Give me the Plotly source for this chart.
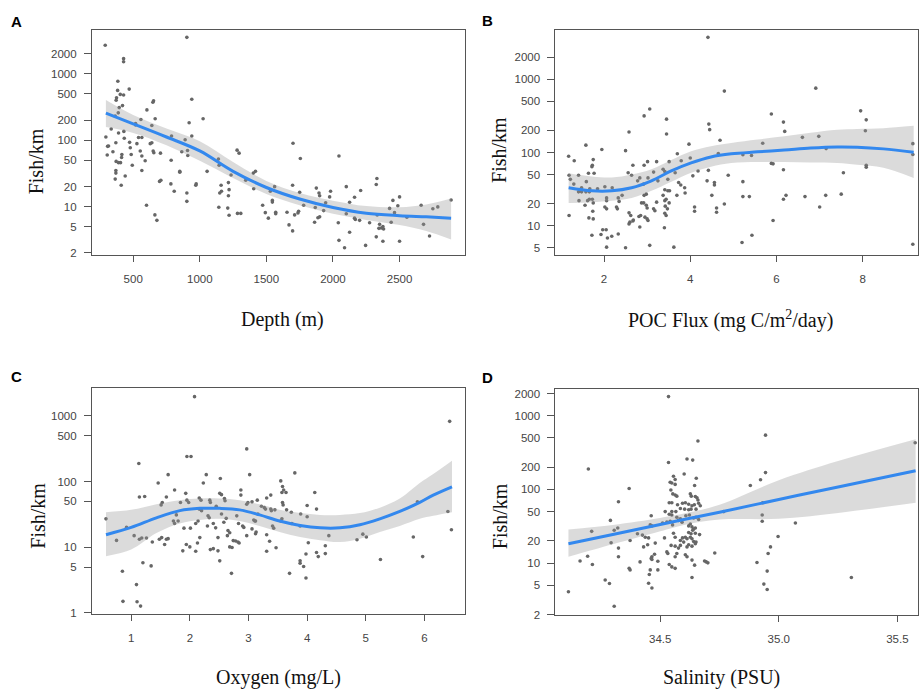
import plotly.graph_objects as go

# ---- Panel A: depth ----
depth = [290, 903, 428, 428, 385, 470, 383, 403, 428, 375, 372, 420, 395, 388, 365, 653, 648, 940,
         603, 665, 1025, 920, 558, 518, 518, 640, 335, 430, 390, 788, 940, 295, 433, 540, 565, 890,
         308, 315, 370, 473, 528, 628, 640, 478, 348, 485, 305, 415, 553, 650, 655, 565, 705, 865,
         908, 910, 413, 372, 390, 405, 590, 785, 493, 370, 370, 565, 440, 365, 410, 850, 850, 708,
         698, 783, 808, 903, 973, 970, 600, 663, 678, 903, 1140, 1145, 1055, 1280, 1295, 1235, 1160,
         1163, 1150, 1215, 1220, 1215, 1143, 1210, 1220, 1283, 1308,
         1345, 1402, 1418, 1405, 1472, 1492, 1515, 1530, 1545, 1545, 1562, 1570, 1570, 1655, 1670,
         1700, 1697, 1697, 1712, 1737, 1742, 1755, 1750, 1780, 1875, 1867, 1862, 1887, 1900, 1895,
         1900, 1930, 1945, 1982, 1975, 2040, 2045, 2045, 2087, 2100, 2100, 2125, 2125, 2162, 2162,
         2168, 2200, 2208, 2245, 2275, 2330, 2325, 2332, 2325, 2350, 2345, 2362, 2375, 2380, 2375,
         2425, 2437, 2450, 2462, 2487, 2500, 2500, 2555, 2662, 2680, 2725, 2750, 2787, 2887]
fish_a = [2710, 3560, 1700, 1530, 778, 591, 565, 492, 481, 438, 401, 333, 311, 259, 231, 395, 374, 415,
          287, 211, 211, 184, 206, 179, 170, 167, 148, 136, 129, 116, 116, 112, 107, 110, 110, 102,
          81, 82, 92, 93, 89, 89, 92, 77, 67, 61, 60, 61, 69, 69, 65, 58, 64, 67,
          70, 59, 55, 48, 46, 46, 49, 50, 42, 35, 32, 35, 29, 26, 21, 34, 33, 25,
          24, 22, 17, 16, 22, 21, 10.5, 7.5, 6.2, 12, 52, 42, 34, 71, 64, 30, 21,
          17, 16, 23, 18, 14.6, 9.8, 9.5, 7.4, 7.9, 7.9,
          25, 32, 34, 18.6, 10.5, 8.1, 6.7, 17, 12.4, 11.7, 20, 8.2, 7.8, 8.2, 5.3,
          90, 21, 4.3, 7.5, 8, 8.5, 53, 16.4, 10.5, 19, 9.7, 5.8, 6.8, 7, 16,
          14.6, 8.7, 11.4, 17, 14, 5.7, 3.1, 58, 2.4, 20, 7.8, 11.6, 4.1, 13.8, 6.7,
          6.4, 6.2, 17.5, 2.6, 5.7, 26.5, 21.5, 7.5, 3.5, 5.4, 4.7, 4.75, 5, 4.6, 3.0,
          9.4, 5.8, 12.4, 8.1, 10.3, 14, 3.0, 6.9, 10.5, 5.4, 3.6, 9.3, 9.9, 12.6]
fit_a_x = [295, 500, 750, 1000, 1250, 1500, 1750, 2000, 2250, 2500, 2700, 2887]
fit_a = [256, 177, 112, 69, 34, 19.4, 13, 9.7, 7.95, 7.3, 7.0, 6.7]
fit_a_hi = [405, 241, 150, 97, 47, 24.4, 16, 12.3, 10.2, 9.8, 10.8, 13.3]
fit_a_lo = [158, 129, 84, 49, 27, 15.5, 10.5, 7.8, 6.3, 5.3, 4.3, 3.2]

# ---- Panel B: POC flux ----
poc = [4.41, 4.79, 6.91, 3.06, 2.93, 3.45, 5.88, 6.16, 4.43, 4.45, 3.45, 2.58, 6.19, 7.95, 8.08, 8.06,
       6.6, 6.98, 5.68, 4.69, 3.97, 1.58, 1.95, 2.5, 9.16, 9.16, 1.18, 1.31, 4.65, 3.7, 5.42, 5.22,
       4.0, 3.79, 3.51, 3.22, 3.01, 1.75, 1.73, 1.72, 2.93, 2.67, 5.88, 5.92, 8.08, 8.08, 1.64, 1.77,
       1.41, 1.19, 1.22, 2.56, 2.64, 3.37, 3.41, 3.15, 3.65, 4.06, 4.18, 4.42, 4.88, 6.16, 7.55,
       2.78, 2.83, 2.92, 3.02, 3.25, 3.48, 3.73, 3.78, 3.87, 4.39, 4.56, 4.56, 5.22, 1.59, 1.48,
       1.67, 1.85, 2.02, 2.19, 1.41, 1.48, 1.58, 1.66, 1.3, 2.42, 2.98, 2.93, 3.41, 3.48, 3.52,
       3.37, 3.69, 3.88, 4.5, 7.5, 5.22, 5.37, 6.22, 6.16, 6.66, 7.14, 1.42, 1.62, 1.66, 1.73, 1.75,
       2.06, 2.06, 2.33, 2.35, 2.29, 2.31, 2.02, 2.06, 2.87, 2.92, 2.98, 3.0, 3.15, 3.18, 3.22,
       3.41, 3.44, 3.42, 3.47, 3.51, 3.41, 3.44, 1.56, 1.74, 1.19, 1.65, 1.75, 2.58, 2.62, 2.6,
       2.58, 2.67, 2.68, 2.85, 2.81, 2.95, 3.0, 3.02, 2.83, 3.4, 4.1, 4.1, 4.61, 4.61, 4.79, 5.92,
       7.0, 1.72, 1.93, 1.97, 2.05, 2.08, 2.18, 2.33, 2.06, 2.5, 3.06, 3.62, 5.2, 5.43, 9.16, 7.15]
fish_b = [3730, 689, 755, 393, 316, 285, 336, 260, 244, 205, 179, 190, 194, 370, 279, 198,
          161, 166, 134, 147, 130, 126, 110, 106, 132, 94, 89, 77, 97, 96, 91, 93,
          84, 77, 75, 75, 75, 80, 67, 64, 67, 67, 71, 70, 67, 63, 52, 52,
          49, 49, 43, 53, 49, 59, 55, 54, 53, 48, 56, 57, 49, 58, 53,
          41, 45, 37, 45, 41, 43, 39, 36, 33, 41, 39, 36, 40, 40, 33,
          32, 32, 34, 33, 29, 29, 29, 29, 37, 26, 27, 26, 31, 30, 30,
          26, 26, 28, 26, 27, 25, 25, 26, 23, 25, 26, 22, 22, 23, 23, 20.5,
          24, 22, 24, 21.5, 18, 17, 18, 17, 20.5, 20.5, 19, 17.5, 17, 16, 21,
          22, 23, 18.5, 17, 20.5, 14.8, 13.8, 19, 15.8, 13.8, 12.8, 12.4, 15, 13.8, 11.2,
          10.6, 11.6, 12, 13.8, 13.4, 13.1, 12.4, 11.8, 9.6, 9.4, 18, 15.8, 17.5, 15.3, 19.8, 11.8,
          18, 7.4, 7.6, 8.8, 8.8, 6.8, 7.2, 7.7, 5.1, 5.0, 5.4, 5.1, 5.9, 7.4, 5.6, 113]
fit_b_x = [1.18, 1.72, 2.18, 2.64, 3.1, 3.56, 4.02, 4.48, 4.95, 5.56, 6.18, 6.79, 7.41, 7.87, 8.48, 9.18]
fit_b = [33, 30, 30, 33, 41, 56, 72, 87, 96, 102, 108, 115, 119, 118, 112, 101]
fit_b_hi = [52, 47, 45.5, 50, 59, 79, 104, 122, 135, 150, 166, 186, 205, 210, 215, 232]
fit_b_lo = [20.5, 21, 22, 24, 30, 40, 53, 64, 72, 74, 74, 73, 72, 68, 62, 45]

# ---- Panel C: oxygen ----
oxygen = [2.08, 6.43, 2.97, 1.95, 2.02, 1.13, 1.63, 2.28, 3.02, 3.79, 1.46, 2.23, 2.52, 3.55, 3.58, 3.6,
          1.74, 2.87, 2.87, 1.93, 1.14, 1.23, 4.13, 3.57, 3.64, 3.38, 3.31, 2.51, 2.54, 2.59, 2.6,
          2.16, 2.19, 1.95, 1.98, 1.53, 1.51, 1.6, 1.84, 2.34, 2.35, 2.45, 2.97, 2.99, 3.06, 3.15,
          3.22, 3.27, 3.29, 3.38, 3.39, 3.45, 3.58, 3.59, 3.65, 3.73, 3.89, 4.0, 4.16, 4.0, 3.88,
          3.57, 3.55, 3.74, 3.41, 3.43, 3.13, 3.12, 3.06, 3.11, 3.31, 3.36, 3.31, 3.47, 0.57, 0.75,
          0.92, 1.05, 1.14, 1.18, 1.26, 1.36, 1.48, 1.52, 1.57, 1.6, 1.63, 1.72, 1.77, 1.74, 1.8,
          1.9, 2.01, 2.1, 2.14, 2.2, 2.16, 2.31, 2.33, 2.3, 2.4, 2.44, 2.17, 2.13, 1.94, 2.0, 1.88,
          2.1, 2.35, 2.4, 2.48, 2.48, 2.51, 2.54, 2.58, 2.62, 2.65, 2.68, 2.64, 2.68, 2.72, 2.74,
          2.78, 2.82, 2.84, 2.71, 2.8, 2.83, 2.9, 2.92, 2.97, 3.09, 3.12, 3.16, 3.7, 3.88, 3.88,
          3.94, 3.98, 3.98, 4.02, 4.16, 4.19, 4.31, 4.31, 4.37, 4.85, 4.95, 5.01, 5.25, 5.81, 5.88,
          5.97, 6.4, 6.46, 0.85, 0.86, 1.09, 1.1, 1.16, 1.2, 1.34]
fish_c = [1950, 822, 313, 240, 240, 188, 127, 127, 127, 135, 95, 95, 111, 102, 84, 74,
          74, 74, 62, 66, 58, 59, 68, 68, 68, 62, 56, 66, 63, 55, 51,
          56, 52, 52, 48, 48, 44, 58, 48, 52, 48, 42, 45, 48, 49, 52,
          42, 40, 38, 38, 36, 37, 48, 44, 37, 34, 32, 43, 38, 29, 21,
          27, 25, 23, 21, 19.5, 17, 16, 19, 25, 15.5, 12.3, 8.7, 9.8, 27, 12.7,
          20, 15, 13.2, 13.8, 13.8, 12, 13.2, 14, 11, 13.2, 13.5, 25, 31, 23, 25,
          19.5, 19.5, 23, 25, 36, 38, 30, 28, 21, 23, 19.7, 14, 11.6, 11, 10.1, 8.8,
          8.7, 9.2, 9.5, 14, 8.8, 6.2, 32, 24, 27.5, 18, 16.6, 15, 10.1, 9.9, 12.6,
          12.4, 12, 11.6, 4.0, 30, 23, 21, 20, 15, 26, 25, 32, 4.0, 6.2, 5.7,
          5.1, 3.4, 7.9, 11.7, 8.3, 7.2, 8.0, 10.5, 15, 13, 15.8, 14.3, 6.5, 14.3, 49,
          7.2, 35, 18.4, 4.3, 1.5, 2.7, 1.48, 1.27, 5.8, 5.2]
fit_c_x = [0.57, 1.0, 1.43, 1.83, 2.17, 2.51, 2.85, 3.19, 3.53, 3.88, 4.22, 4.56, 4.9, 5.24, 5.58, 5.92, 6.15, 6.47]
fit_c = [15.5, 20, 28, 36, 39, 39, 37, 31, 25, 21.4, 19.7, 19.7, 21.9, 27, 35, 48, 62, 83]
fit_c_hi = [34, 37, 45, 52, 55, 55, 52, 45, 37, 33, 31, 31, 33, 40, 55, 95, 130, 207]
fit_c_lo = [7.3, 9.2, 16.4, 23, 26, 27, 25, 21, 17, 14.3, 12.8, 12, 13.5, 17, 21, 27, 30, 34]

# ---- Panel D: salinity ----
salinity = [34.535, 34.944, 34.659, 35.575, 34.535, 34.613, 34.637, 34.197, 34.944, 34.923, 34.880,
            34.556, 34.563, 34.542, 34.549, 34.563, 34.601, 34.652, 34.645, 34.369, 34.545, 34.553,
            34.563, 34.570, 34.627, 34.631, 34.648, 34.655, 34.659, 34.324, 34.538, 34.549, 34.573,
            34.594, 34.606, 34.620, 34.634, 34.644, 34.662, 34.669, 34.521, 34.549, 34.566, 34.585,
            34.603, 34.620, 34.630, 34.651, 34.768, 34.932, 34.290, 34.462, 34.538, 34.549, 34.570,
            34.585, 34.608, 34.623, 34.641, 34.651, 34.662, 34.930, 34.930, 35.070, 34.211, 34.306,
            34.321, 34.404, 34.458, 34.465, 34.510, 34.528, 34.542, 34.552, 34.577, 34.592, 34.620,
            34.627, 34.634, 34.641, 34.648, 34.637, 34.620, 34.630, 34.648, 34.666, 34.425, 34.437,
            34.451, 34.518, 34.556, 34.563, 34.594, 34.606, 34.613, 34.627, 34.634, 34.585, 34.599,
            34.641, 34.651, 34.373, 34.293, 34.430, 34.447, 34.479, 34.546, 34.563, 34.585, 34.577,
            34.613, 34.620, 34.634, 34.648, 34.965, 34.997, 34.730, 34.955, 34.324, 34.476, 34.465,
            34.528, 34.532, 34.570, 34.563, 34.606, 34.613, 34.634, 34.687, 34.694, 34.701, 34.194,
            34.162, 34.214, 34.324, 34.415, 34.462, 34.465, 34.490, 34.538, 34.549, 34.563, 34.645,
            34.908, 34.369, 34.373, 34.458, 34.490, 34.951, 34.454, 34.634, 35.306, 34.268, 34.286,
            34.451, 34.937, 34.465, 34.951, 34.113, 34.306]
fish_d = [1815, 545, 453, 430, 232, 258, 250, 189, 169, 135, 113,
          151, 136, 125, 122, 117, 162, 142, 113, 103, 98, 87,
          84, 81, 87, 81, 80, 77, 72, 68, 66, 66, 62,
          65, 66, 63, 60, 62, 65, 60, 50, 50, 50, 55,
          54, 53, 54, 54, 50, 66, 38, 44, 46, 45, 42,
          40, 44, 45, 41, 42, 39, 45, 37, 35, 27, 28,
          30, 25, 33, 32, 35, 36, 37, 33, 38, 36, 32,
          34, 31, 29, 30, 28, 26, 25, 25.5, 24.4, 24, 22.5,
          22, 22, 25.5, 22.5, 22, 22.5, 21.4, 22.5, 21.4, 20.3, 19.3,
          19.7, 19.3, 20.3, 18.9, 16.6, 17.8, 18.7, 17.4, 17, 17.4, 16,
          16.6, 17.8, 17, 18.3, 16.6, 23, 13.7, 13.5, 16, 13.2, 12.2,
          14.2, 13.5, 13.5, 12.2, 13, 12.2, 11, 10.7, 10.4, 10.1, 12.4,
          10.7, 9.6, 12.2, 10.4, 11.6, 11.2, 10.6, 9.6, 8.9, 8.5, 9.4,
          10.2, 8.5, 8.1, 8.1, 8.1, 7.8, 7.0, 6.4, 6.4, 5.9, 5.3,
          5.35, 5.2, 4.6, 4.4, 4.1, 2.6]
fit_d_x = [34.113, 34.3, 34.5, 34.6, 34.75, 35.0, 35.25, 35.577]
fit_d = [18.3, 24.5, 33.5, 39, 49, 73, 108, 179]
fit_d_hi = [28.5, 33, 41, 47, 62, 133, 242, 478]
fit_d_lo = [12.2, 18, 27, 33, 39, 40, 48, 66]

W, H = 919, 695
fig = go.Figure()

panels = [
    dict(x=depth, y=fish_a, fx=fit_a_x, f=fit_a, hi=fit_a_hi, lo=fit_a_lo,
         dom_x=(92, 466), dom_y=(29, 257), xr=[190, 2995], yr=[0.264, 3.667],
         xt=[500, 1000, 1500, 2000, 2500], xtt=['500', '1000', '1500', '2000', '2500'],
         yt=[2, 5, 10, 20, 50, 100, 200, 500, 1000, 2000]),
    dict(x=poc, y=fish_b, fx=fit_b_x, f=fit_b, hi=fit_b_hi, lo=fit_b_lo,
         dom_x=(556, 919), dom_y=(29, 257), xr=[0.873, 9.28], yr=[0.595, 3.676],
         xt=[2, 4, 6, 8], xtt=['2', '4', '6', '8'],
         yt=[5, 10, 20, 50, 100, 200, 500, 1000, 2000]),
    dict(x=oxygen, y=fish_c, fx=fit_c_x, f=fit_c, hi=fit_c_hi, lo=fit_c_lo,
         dom_x=(92, 466), dom_y=(391, 619.5), xr=[0.33, 6.70], yr=[-0.02, 3.421],
         xt=[1, 2, 3, 4, 5, 6], xtt=['1', '2', '3', '4', '5', '6'],
         yt=[1, 5, 10, 50, 100, 500, 1000]),
    dict(x=salinity, y=fish_d, fx=fit_d_x, f=fit_d, hi=fit_d_hi, lo=fit_d_lo,
         dom_x=(556, 919), dom_y=(391.5, 620), xr=[34.058, 35.587], yr=[0.30, 3.368],
         xt=[34.5, 35.0, 35.5], xtt=['34.5', '35.0', '35.5'],
         yt=[2, 5, 10, 20, 50, 100, 200, 500, 1000, 2000]),
]

tickfont = dict(family='Liberation Sans, Arial, sans-serif', size=11.5, color='#444')
layout = {}
for i, p in enumerate(panels, start=1):
    xa = 'x' if i == 1 else 'x%d' % i
    ya = 'y' if i == 1 else 'y%d' % i
    fig.add_trace(go.Scatter(x=p['x'], y=p['y'], mode='markers', xaxis=xa, yaxis=ya,
                             marker=dict(size=3.6, color='#666666'), showlegend=False))
    fig.add_trace(go.Scatter(x=p['fx'], y=p['lo'], mode='lines', xaxis=xa, yaxis=ya,
                             line=dict(width=0, shape='spline'), showlegend=False))
    fig.add_trace(go.Scatter(x=p['fx'], y=p['hi'], mode='lines', xaxis=xa, yaxis=ya,
                             line=dict(width=0, shape='spline'), fill='tonexty',
                             fillcolor='rgba(153,153,153,0.35)', showlegend=False))
    fig.add_trace(go.Scatter(x=p['fx'], y=p['f'], mode='lines', xaxis=xa, yaxis=ya,
                             line=dict(width=3, color='#3388EE', shape='spline'), showlegend=False))
    kx = 'xaxis' if i == 1 else 'xaxis%d' % i
    ky = 'yaxis' if i == 1 else 'yaxis%d' % i
    layout[kx] = dict(domain=[p['dom_x'][0] / W, p['dom_x'][1] / W], range=p['xr'], anchor=ya,
                      showgrid=False, zeroline=False, showline=True, mirror=True, linecolor='#555',
                      ticks='outside', ticklen=6, tickcolor='#555', tickvals=p['xt'],
                      ticktext=p['xtt'], tickfont=tickfont, ticklabelstandoff=7)
    layout[ky] = dict(domain=[1 - p['dom_y'][1] / H, 1 - p['dom_y'][0] / H], type='log',
                      range=p['yr'], anchor=xa, showgrid=False, zeroline=False, showline=True,
                      mirror=True, linecolor='#555', ticks='outside', ticklen=7, tickcolor='#555',
                      tickvals=p['yt'], ticktext=[str(v) for v in p['yt']], tickfont=tickfont,
                      ticklabelstandoff=5)

serif = dict(family='Liberation Serif, Times New Roman, serif', size=20, color='#111')
bold = dict(family='Liberation Sans, Arial, sans-serif', size=15, color='black')
notes = [
    ('<b>A</b>', 17, 21, bold, 0),
    ('<b>B</b>', 488, 20, bold, 0),
    ('<b>C</b>', 17, 379, bold, 0),
    ('<b>D</b>', 488, 380, bold, 0),
    ('Fish/km', 36, 162, serif, -90),
    ('Fish/km', 500, 150, serif, -90),
    ('Fish/km', 38, 520, serif, -90),
    ('Fish/km', 500, 520, serif, -90),
    ('Depth (m)', 283, 322, serif, 0),
    ('POC Flux (mg C/m<sup>2</sup>/day)', 731, 322, serif, 0),
    ('Oxygen (mg/L)', 279, 683, serif, 0),
    ('Salinity (PSU)', 722, 683, serif, 0),
]
annotations = []
for text, px, py, font, ang in notes:
    annotations.append(dict(text=text, x=px / W, y=1 - py / H, xref='paper', yref='paper',
                            xanchor='center', yanchor='middle', showarrow=False, font=font,
                            textangle=ang))

fig.update_layout(width=W, height=H, margin=dict(l=0, r=0, t=0, b=0),
                  paper_bgcolor='white', plot_bgcolor='white', annotations=annotations,
                  **layout)

# the page body has a default 8px margin; drop it so the figure sits at the window's origin
fig.write_html("out.html", config={'displayModeBar': False},
               post_script="document.body.style.margin='0';")
